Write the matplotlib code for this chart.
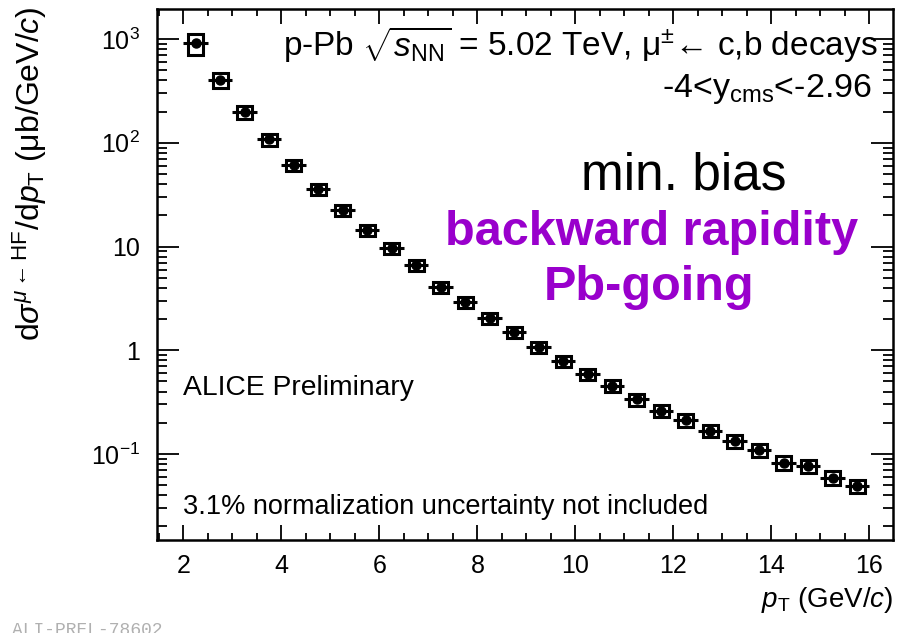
import numpy as np
import matplotlib
matplotlib.use('Agg')
import matplotlib.pyplot as plt
from matplotlib.patches import Rectangle
from matplotlib.ticker import FixedLocator, MultipleLocator, LogLocator, NullFormatter

plt.rcParams['font.family'] = ['Liberation Sans', 'DejaVu Sans']
plt.rcParams['mathtext.fontset'] = 'custom'
plt.rcParams['mathtext.rm'] = 'Liberation Sans'
plt.rcParams['mathtext.it'] = 'Liberation Sans:italic'
plt.rcParams['mathtext.bf'] = 'Liberation Sans:bold'

# pT bin centres (GeV/c), half bin width 0.25
pt = np.arange(2.25, 16.0, 0.5)
xsec = [909, 403, 199, 108, 61, 35.8, 22.5, 14.4, 9.6, 6.63,
        4.04, 2.90, 2.03, 1.49, 1.07, 0.787, 0.586, 0.455, 0.336, 0.261,
        0.213, 0.168, 0.133, 0.109, 0.0825, 0.0766, 0.0591, 0.0492]
# relative systematic uncertainty (boxes)
sys_rel = [0.22, 0.17, 0.14, 0.13, 0.12, 0.12, 0.12, 0.12, 0.12, 0.12,
           0.12, 0.12, 0.12, 0.12, 0.12, 0.12, 0.12, 0.13, 0.13, 0.13,
           0.14, 0.14, 0.15, 0.15, 0.15, 0.15, 0.15, 0.15]
ytick_vals = [0.1, 1, 10, 100, 1000]
ytick_labels = ['$10^{-1}$', '1', '10', '$10^{2}$', '$10^{3}$']

W, H = 904, 633
fig = plt.figure(figsize=(W / 100, H / 100), dpi=100)
ax = fig.add_axes([156.7 / W, 1 - 540 / H, (893 - 156.7) / W, (540 - 9) / H])

def px(x, y):
    return x / W, 1 - y / H

ax.set_yscale('log')
ax.set_xlim(1.455, 16.48)
ax.set_ylim(0.0148, 1950)

for x, y, s in zip(pt, xsec, sys_rel):
    ax.add_patch(Rectangle((x - 0.15, y * (1 - s)), 0.3, y * 2 * s,
                           fill=False, edgecolor='k', lw=2.2, zorder=2))
ax.errorbar(pt, xsec, xerr=0.25, fmt='o', color='k', ms=6.5,
            elinewidth=2.2, capsize=0, zorder=3)

ax.yaxis.set_major_locator(FixedLocator(ytick_vals))
ax.set_yticklabels(ytick_labels)
ax.yaxis.set_minor_locator(LogLocator(base=10, subs=np.arange(2, 10)))
ax.yaxis.set_minor_formatter(NullFormatter())
ax.xaxis.set_major_locator(MultipleLocator(2))
ax.xaxis.set_minor_locator(MultipleLocator(0.5))

for sp in ax.spines.values():
    sp.set_linewidth(1.8)
ax.tick_params(which='both', direction='in', top=True, right=True, width=1.3)
ax.tick_params(axis='x', which='major', length=11, labelsize=18, pad=10)
ax.tick_params(axis='x', which='minor', length=5)
ax.tick_params(axis='y', which='major', length=16, labelsize=18, pad=12)
ax.tick_params(axis='y', which='minor', length=7)

fig.text(*px(30, 6), r'd$\sigma^{\mu\leftarrow{\rm HF}}$/d$p_{\rm T}$ (μb/GeV/$c$)',
         rotation=90, ha='center', va='top', fontsize=23)
fig.text(*px(893, 607), r'$p_{\rm T}$ (GeV/$c$)', ha='right', va='baseline', fontsize=20)

fig.text(*px(878, 56), r'p-Pb $\sqrt{s_{\rm NN}}$ = 5.02 TeV, μ$^{\pm}$← c,b decays',
         ha='right', va='baseline', fontsize=24)
fig.text(*px(872, 97), r'-4<y$_{\rm cms}$<-2.96', ha='right', va='baseline', fontsize=24.5)
fig.text(*px(684, 190), 'min. bias', ha='center', va='baseline', fontsize=37)
fig.text(*px(652, 245), 'backward rapidity', ha='center', va='baseline',
         fontsize=35, fontweight='bold', color='#9900cc')
fig.text(*px(649, 300), 'Pb-going', ha='center', va='baseline',
         fontsize=35, fontweight='bold', color='#9900cc')
fig.text(*px(183, 395), 'ALICE Preliminary', ha='left', va='baseline', fontsize=20.3)
fig.text(*px(183, 514), '3.1% normalization uncertainty not included',
         ha='left', va='baseline', fontsize=19.5)
fig.text(*px(12, 622), 'ALI-PREL-78602', ha='left', va='top', fontsize=13,
         family='Liberation Mono', color='#b0b0b0')

fig.savefig('out.png', dpi=100)
